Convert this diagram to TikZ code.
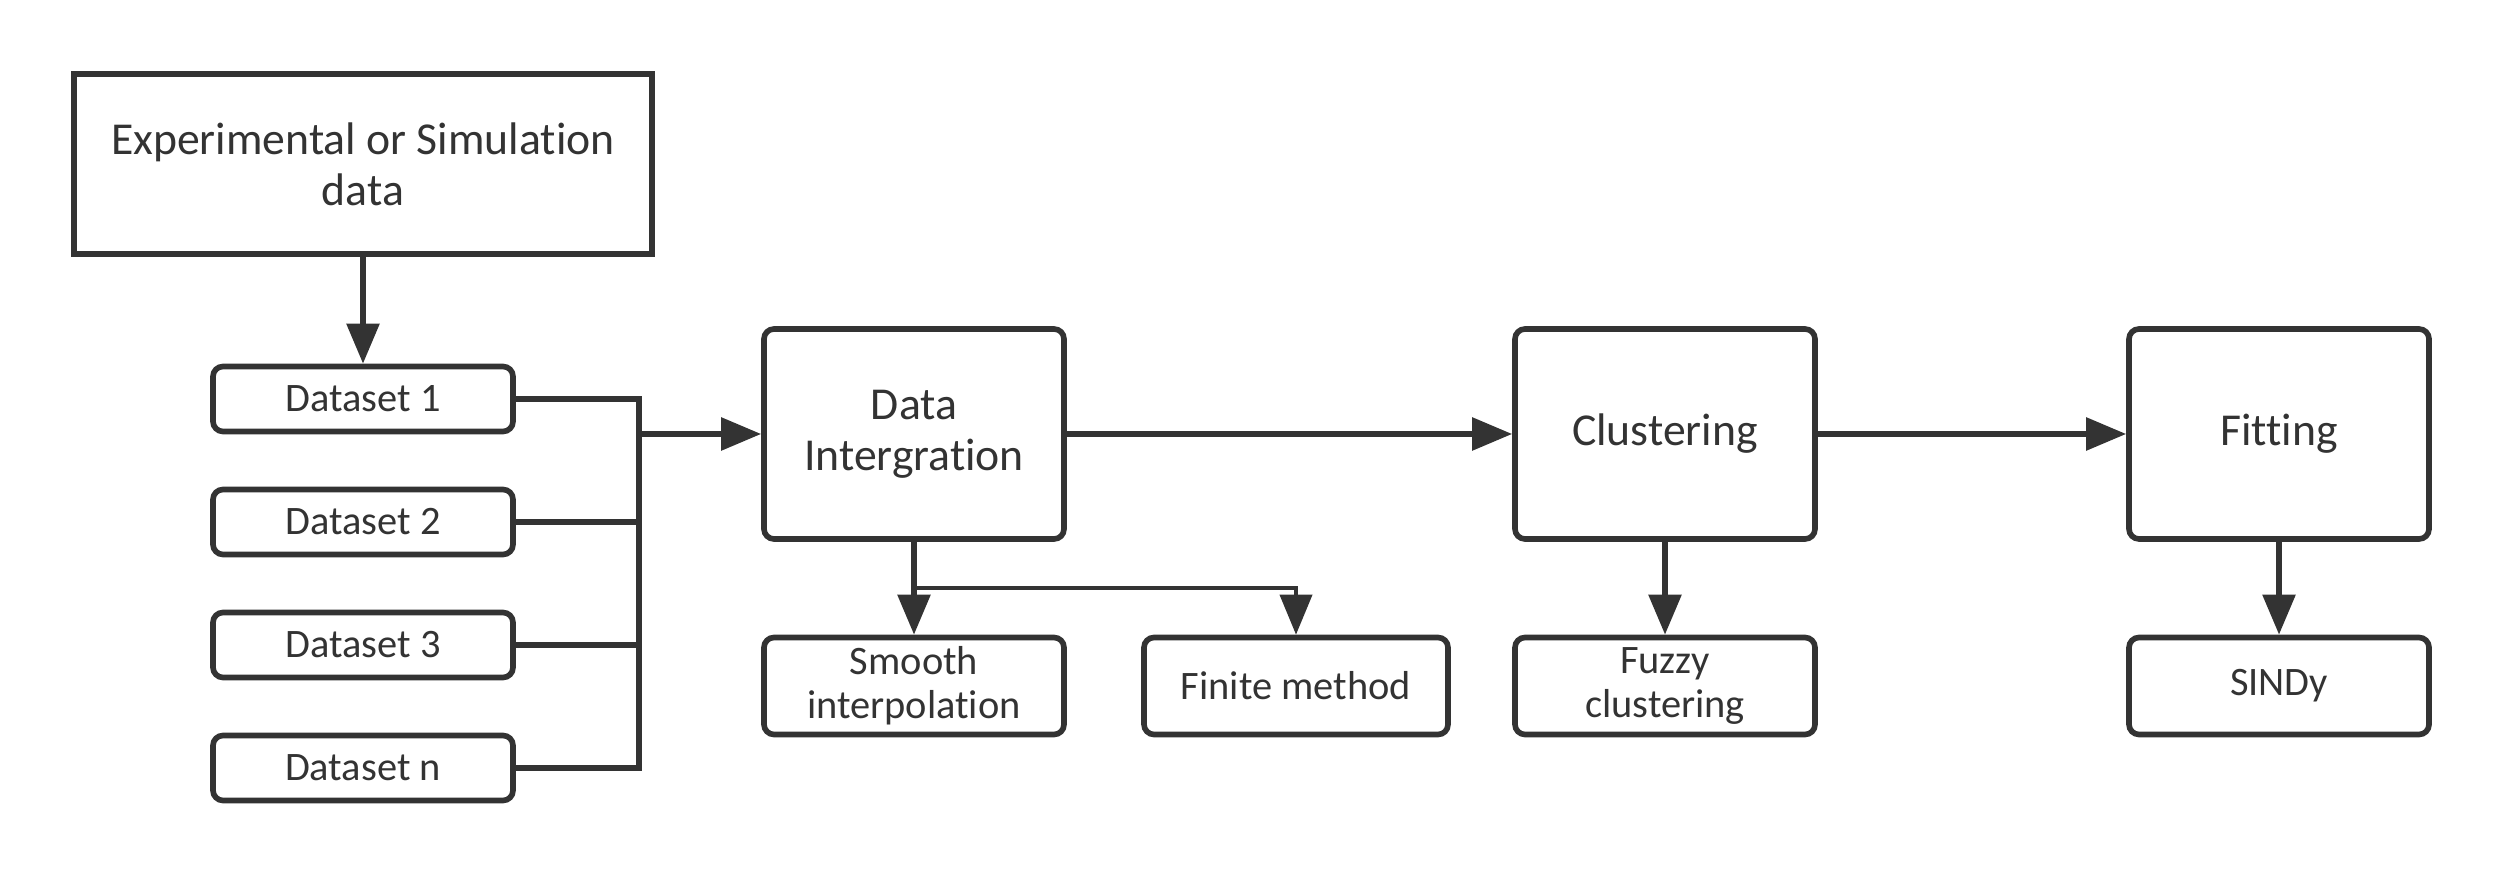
\documentclass[tikz,border=0pt]{standalone}
\usepackage{fontspec}
\setmainfont{Carlito}[RawFeature={-liga;-clig;-calt;-dlig}]
\usepackage{tikz}
\usetikzlibrary{arrows.meta}
\definecolor{ink}{HTML}{333333}

\begin{document}
\begin{tikzpicture}[line width=1.6pt, draw=ink, text=ink, >={Triangle[length=0.4cm,width=0.32cm]},
    srcnode/.style={draw,rectangle,minimum width=5.78cm,minimum height=1.8cm,inner sep=2pt,align=center,font=\fontsize{13}{14.5}\selectfont},
    dnode/.style={draw,rectangle,rounded corners=0.1cm,minimum width=3cm,minimum height=0.65cm,inner sep=1pt,font=\fontsize{11.5}{12.5}\selectfont},
    pnode/.style={draw,rectangle,rounded corners=0.1cm,minimum width=3cm,minimum height=2.1cm,inner sep=2pt,align=center,font=\fontsize{13}{14.5}\selectfont},
    mnode/.style={draw,rectangle,rounded corners=0.1cm,minimum width=3cm,minimum height=0.97cm,inner sep=1pt,align=center,font=\fontsize{11.5}{12.5}\selectfont}]
    \useasboundingbox (0,0) rectangle (25.06,-8.76);

    \node[srcnode] (exp) at (3.63,-1.64) {Experimental or Simulation\\data};
    \node[dnode] (d1) at (3.63,-3.99) {Dataset 1};
    \node[dnode] (d2) at (3.63,-5.22) {Dataset 2};
    \node[dnode] (d3) at (3.63,-6.45) {Dataset 3};
    \node[dnode] (dn) at (3.63,-7.68) {Dataset n};

    \node[pnode] (integ) at (9.14,-4.34) {Data\\Intergration};
    \node[pnode] (clust) at (16.65,-4.34) {Clustering};
    \node[pnode] (fit) at (22.79,-4.34) {Fitting};

    \node[mnode] (smooth) at (9.14,-6.86) {Smooth\\interpolation};
    \node[mnode, minimum width=3.04cm] (finite) at (12.96,-6.86) {Finite method};
    \node[mnode] (fuzzy) at (16.65,-6.86) {Fuzzy\\clustering};
    \node[mnode] (sindy) at (22.79,-6.86) {SINDy};

    \coordinate (bt) at (6.39,-3.99);
    \coordinate (bb) at (6.39,-7.68);
    \coordinate (br) at (9.14,-5.88);

    \draw[->] (exp) to (d1);
    \draw (d1.east) -- (bt) -- (bb) -- (dn.east);
    \draw (d2.east) -- (d2.east -| bt);
    \draw (d3.east) -- (d3.east -| bt);
    \draw[->] (integ.west -| bt) -- (integ.west);

    \draw[->] (integ) to (clust);
    \draw[->] (clust) to (fit);

    \draw[->] (integ) to (smooth);
    \draw[->, line width=1.1pt] (br) -| (finite.north);
    \draw[->] (clust) to (fuzzy);
    \draw[->] (fit) to (sindy);
\end{tikzpicture}
\end{document}
